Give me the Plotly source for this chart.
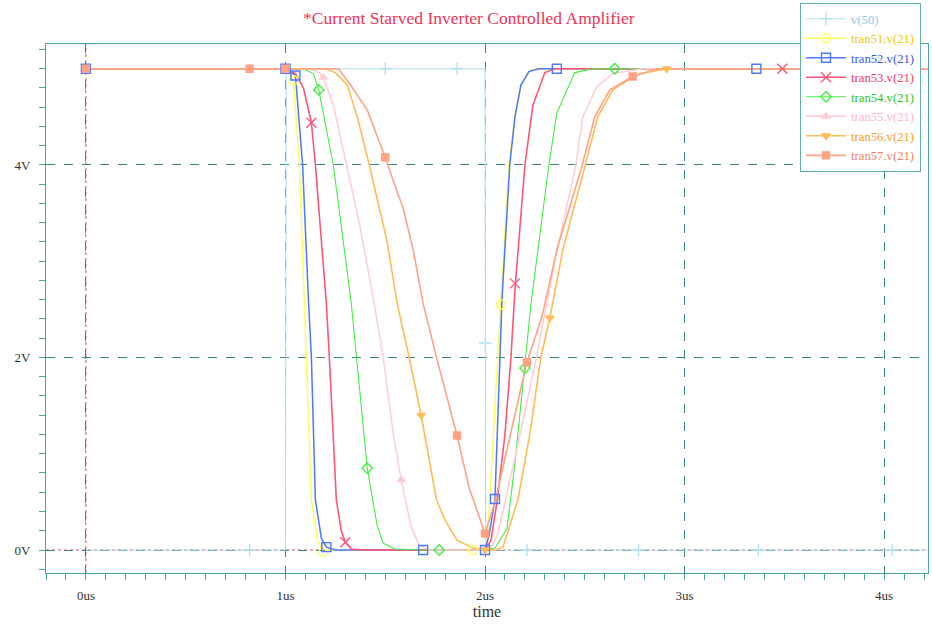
import plotly.graph_objects as go

# ---------------- data (time in us, voltage in V) ----------------
v50_t = [0, 1.0, 1.004, 2.0, 2.004, 4.22]
v50_v = [0, 0, 5, 5, 0, 0]
v50_mt = [0.82, 1.50, 1.86, 2.002, 2.21, 2.77, 3.37, 4.04]
v50_mv = [0, 5, 5, 2.15, 0, 0, 0, 0]

t51_t = [0, 1.0, 1.02, 1.04, 1.07, 1.096, 1.106, 1.13, 1.16, 1.19, 1.22, 1.4, 2.0, 2.01, 2.03, 2.063, 2.08, 2.1, 2.12, 2.15, 2.18, 2.23, 2.3, 4.22]
t51_v = [5, 5, 4.96, 4.88, 4.0, 2.56, 2.0, 0.52, 0.1, -0.02, 0.0, 0.0, 0.0, 0.05, 0.8, 2.0, 2.55, 3.3, 4.0, 4.5, 4.83, 4.99, 5.0, 5.0]
t51_mt = [1.04, 1.19, 1.94, 2.08]
t51_mv = [4.88, -0.02, 0.0, 2.55]

t52_t = [0, 1.0, 1.05, 1.086, 1.116, 1.13, 1.15, 1.18, 1.205, 1.25, 2.0, 2.02, 2.05, 2.075, 2.085, 2.124, 2.15, 2.18, 2.22, 2.27, 2.36, 4.22]
t52_v = [5, 5, 4.93, 4.0, 2.56, 2.0, 0.52, 0.12, 0.03, 0.0, 0.0, 0.15, 0.53, 2.0, 2.6, 4.0, 4.5, 4.83, 4.97, 5.0, 5.0, 5.0]
t52_mt = [0, 1.0, 1.05, 1.205, 1.69, 2.0, 2.05, 2.36, 3.36]
t52_mv = [5, 5, 4.93, 0.03, 0.0, 0.0, 0.53, 5.0, 5.0]

t53_t = [0, 1.0, 1.05, 1.09, 1.13, 1.15, 1.205, 1.22, 1.255, 1.28, 1.30, 1.33, 1.4, 2.0, 2.03, 2.06, 2.1, 2.13, 2.15, 2.2, 2.24, 2.3, 2.35, 4.22]
t53_v = [5, 5, 4.95, 4.8, 4.44, 4.0, 2.56, 2.0, 0.52, 0.2, 0.08, 0.01, 0.0, 0.0, 0.1, 0.5, 1.2, 2.0, 2.7, 4.0, 4.62, 4.96, 5.0, 5.0]
t53_mt = [1.13, 1.30, 2.15, 3.49]
t53_mv = [4.44, 0.08, 2.77, 5.0]

t54_t = [0, 1.0, 1.1, 1.14, 1.167, 1.24, 1.33, 1.357, 1.41, 1.437, 1.46, 1.49, 1.55, 1.7, 2.0, 2.05, 2.11, 2.15, 2.2, 2.23, 2.32, 2.36, 2.45, 2.54, 4.22]
t54_v = [5, 5, 4.99, 4.95, 4.78, 4.0, 2.56, 2.0, 0.85, 0.52, 0.25, 0.07, 0.01, 0.0, 0.0, 0.02, 0.22, 0.9, 1.89, 2.55, 4.0, 4.54, 4.96, 5.0, 5.0]
t54_mt = [1.167, 1.41, 1.77, 2.2, 2.65]
t54_mv = [4.78, 0.85, 0.0, 1.89, 5.0]

t55_t = [0, 1.0, 1.12, 1.17, 1.19, 1.24, 1.306, 1.37, 1.445, 1.49, 1.54, 1.58, 1.63, 1.67, 1.72, 2.0, 2.04, 2.065, 2.16, 2.255, 2.35, 2.455, 2.49, 2.56, 2.64, 2.79, 4.22]
t55_v = [5, 5, 5, 4.96, 4.91, 4.62, 4.0, 3.4, 2.56, 2.0, 1.21, 0.73, 0.24, 0.05, 0.0, 0.0, 0.05, 0.18, 1.05, 1.97, 3.0, 4.0, 4.5, 4.81, 4.95, 5.0, 5.0]
t55_mt = [1.19, 1.58]
t55_mv = [4.91, 0.73]

t56_t = [0, 1.0, 1.2, 1.25, 1.31, 1.36, 1.42, 1.51, 1.56, 1.62, 1.68, 1.757, 1.80, 1.86, 1.94, 2.0, 2.05, 2.09, 2.165, 2.225, 2.28, 2.325, 2.39, 2.50, 2.565, 2.64, 2.76, 2.91, 4.22]
t56_v = [5, 5, 5, 4.96, 4.83, 4.5, 4.0, 3.2, 2.56, 2.0, 1.40, 0.52, 0.31, 0.1, 0.02, 0.0, 0.0, 0.03, 0.52, 1.21, 2.0, 2.41, 3.12, 3.98, 4.5, 4.78, 4.94, 5.0, 5.0]
t56_mt = [0, 1.68, 2.0, 2.325, 2.91]
t56_mv = [5, 1.40, 0.0, 2.41, 5.0]

t57_t = [0, 1.0, 1.25, 1.27, 1.32, 1.41, 1.50, 1.56, 1.59, 1.64, 1.69, 1.757, 1.86, 1.92, 1.97, 2.0, 2.05, 2.1, 2.15, 2.21, 2.285, 2.36, 2.485, 2.55, 2.625, 2.74, 2.86, 4.22]
t57_v = [5, 5, 5, 4.99, 4.85, 4.57, 4.08, 3.72, 3.55, 3.12, 2.56, 2.0, 1.19, 0.65, 0.34, 0.17, 0.5, 0.95, 1.4, 1.95, 2.42, 3.12, 3.98, 4.5, 4.78, 4.92, 5.0, 5.0]
t57_mt = [0, 0.82, 1.0, 1.50, 1.86, 2.0, 2.21, 2.74]
t57_mv = [5, 5, 5, 4.08, 1.19, 0.17, 1.95, 4.92]

names = ["v(50)", "tran51.v(21)", "tran52.v(21)", "tran53.v(21)", "tran54.v(21)",
         "tran55.v(21)", "tran56.v(21)", "tran57.v(21)"]
xs = [v50_t, t51_t, t52_t, t53_t, t54_t, t55_t, t56_t, t57_t]
ys = [v50_v, t51_v, t52_v, t53_v, t54_v, t55_v, t56_v, t57_v]
mxs = [v50_mt, t51_mt, t52_mt, t53_mt, t54_mt, t55_mt, t56_mt, t57_mt]
mys = [v50_mv, t51_mv, t52_mv, t53_mv, t54_mv, t55_mv, t56_mv, t57_mv]

line_colors = ["#b5e2f3", "#ffff55", "#4a78ff", "#ff5577", "#44ee44", "#ffccd6", "#ffbb55", "#ffa384"]
text_colors = ["#8cc8e8", "#f2c800", "#3358e8", "#ee3d60", "#1fc81f", "#ffb8c8", "#f5a020", "#f58060"]
symbols = ["cross-thin", "circle-open", "square-open", "x-thin", "diamond-open",
           "triangle-up", "triangle-down", "square"]
msizes = [9, 9, 9, 10, 8, 7, 7, 7]
lwidths = [1.2, 1.5, 1.5, 1.6, 1.1, 1.5, 1.6, 1.6]

SERIF = "Liberation Serif, Times New Roman, serif"
GRID = "#3b8585"

fig = go.Figure()

for i in range(len(names)):
    fig.add_trace(go.Scatter(x=xs[i], y=ys[i], mode="lines",
                             line=dict(color=line_colors[i], width=lwidths[i]),
                             showlegend=False, hoverinfo="skip"))

for i in range(len(names)):
    mx, my = [], []
    for a, b in zip(mxs[i], mys[i]):
        mx += [a, None]
        my += [b, None]
    fig.add_trace(go.Scatter(
        x=mx, y=my, mode="lines+markers", connectgaps=False,
        line=dict(color=line_colors[i], width=lwidths[i]),
        marker=dict(symbol=symbols[i], size=msizes[i], color=line_colors[i],
                    line=dict(color=line_colors[i], width=1.4)),
        name='<span style="color:%s">%s</span>' % (text_colors[i], names[i]),
        hoverinfo="skip"))

fig.update_layout(
    width=932, height=624,
    margin=dict(l=46, r=4, t=44, b=51, autoexpand=False),
    paper_bgcolor="white", plot_bgcolor="white",
    font=dict(family=SERIF, size=13, color="#333333"),
    title=dict(text="*Current Starved Inverter Controlled Amplifier",
               x=0.503, xanchor="center", y=1 - 18 / 624, yanchor="middle",
               font=dict(family=SERIF, size=17.5, color="#ee3355")),
    showlegend=True,
    legend=dict(x=(800 - 46) / 882, xanchor="left", y=1 + (44 - 3) / 529, yanchor="top",
                bgcolor="white", bordercolor="#5fb0b0", borderwidth=1,
                font=dict(family=SERIF, size=12.7), itemwidth=40,
                tracegroupgap=0),
    xaxis=dict(range=[-0.2, 4.22], tick0=0, dtick=1, ticksuffix="us",
               showgrid=True, gridcolor=GRID, griddash="dash", gridwidth=1,
               zeroline=False, showline=True, linecolor="#4aa3a3", linewidth=1.2, mirror=True,
               ticks="outside", ticklen=6, tickcolor="#4aa3a3",
               minor=dict(tick0=0, dtick=0.1, ticks="outside", ticklen=6,
                          tickcolor="#4aa3a3", showgrid=False),
               tickfont=dict(family=SERIF, size=13, color="#333333"),
               ticklabelstandoff=4,
               title=dict(text="time", font=dict(family=SERIF, size=16, color="#333333"),
                          standoff=0)),
    yaxis=dict(range=[-0.239, 5.257], tick0=0, dtick=2, ticksuffix="V",
               showgrid=True, gridcolor=GRID, griddash="dash", gridwidth=1,
               zeroline=False, showline=True, linecolor="#4aa3a3", linewidth=1.2, mirror=True,
               ticks="outside", ticklen=6, tickcolor="#4aa3a3",
               minor=dict(tick0=0, dtick=0.2, ticks="outside", ticklen=6,
                          tickcolor="#4aa3a3", showgrid=False),
               tickfont=dict(family=SERIF, size=13, color="#333333"),
               ticklabelstandoff=6),
    shapes=[
        dict(type="line", xref="paper", x0=0, x1=1, yref="y", y0=0, y1=0,
             line=dict(color="#dd5555", width=1, dash="dot"), layer="below"),
        dict(type="line", yref="paper", y0=0, y1=1, xref="x", x0=0, x1=0,
             line=dict(color="#cc5555", width=1, dash="dot"), layer="below"),
    ],
)

fig.write_html("out.html", config={"displayModeBar": False},
               post_script="document.body.style.margin='0';document.body.style.padding='0';")
